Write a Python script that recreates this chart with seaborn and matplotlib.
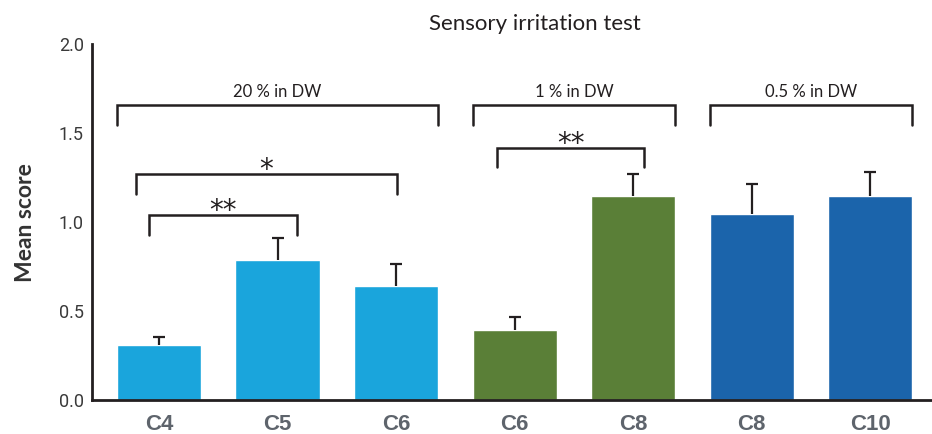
import matplotlib
matplotlib.use("Agg")
import matplotlib.pyplot as plt
import pandas as pd
import seaborn as sns

# data
bar_ids = ["C4", "C5", "C6a", "C6b", "C8a", "C8b", "C10"]
bar_labels = ["C4", "C5", "C6", "C6", "C8", "C8", "C10"]
groups = ["20 % in DW"] * 3 + ["1 % in DW"] * 2 + ["0.5 % in DW"] * 2
mean_score = [0.31, 0.785, 0.64, 0.393, 1.146, 1.045, 1.146]
sem = [0.045, 0.125, 0.125, 0.073, 0.125, 0.168, 0.135]

group_colors = {"20 % in DW": "#1aa5dc", "1 % in DW": "#5a7f37", "0.5 % in DW": "#1b64ab"}

df = pd.DataFrame({"bar": bar_ids, "score": mean_score, "sem": sem, "group": groups})
df["top"] = df["score"] + df["sem"]

sns.set_style("white")
plt.rcParams["font.family"] = ["Lato", "DejaVu Sans"]

fig = plt.figure(figsize=(9.32, 4.34), dpi=100)
ax = fig.add_axes([0.0987, 0.0783, 0.9013, 0.820])

sns.barplot(data=df, x="bar", y="score", hue="group", palette=group_colors,
            order=bar_ids, dodge=False, width=0.71, legend=False, ax=ax,
            saturation=1, errorbar=None)

# upward-only error bars: stem plus a single cap at the top
centers = sorted(p.get_x() + p.get_width() / 2 for p in ax.patches[:len(bar_ids)])
ax.vlines(centers, df["score"], df["top"], color="#231f20", lw=1.6, zorder=3)
ax.plot(centers, df["top"], ls="none", marker="_", ms=8, mew=1.6, color="#231f20", zorder=3)

ax.set_ylim(0, 2.0)
ax.set_xlim(-0.565, 6.52)
ax.set_yticks([0, 0.5, 1.0, 1.5, 2.0])
ax.set_yticklabels(["0.0", "0.5", "1.0", "1.5", "2.0"], fontsize=13, color="#3a3a3a",
                   family=["Roboto", "DejaVu Sans"])
ax.set_xticks(range(len(bar_ids)))
ax.set_xticklabels(bar_labels, fontsize=16, fontweight="bold", color="#5e646c",
                   family=["Liberation Sans Narrow", "Liberation Sans", "DejaVu Sans"])
ax.tick_params(axis="both", length=0, pad=6)
ax.tick_params(axis="x", pad=10)
ax.set_xlabel("")
ax.set_ylabel("Mean score", fontsize=16.5, color="#333333", labelpad=16, fontweight="bold")

for side in ["top", "right"]:
    ax.spines[side].set_visible(False)
for side in ["left", "bottom"]:
    ax.spines[side].set_color("#231f20")
    ax.spines[side].set_linewidth(2)

ax.set_title("Sensory irritation test", fontsize=16, color="#231f20", pad=10, x=0.527)


def bracket(x0, x1, y, drop):
    ax.plot([x0, x0, x1, x1], [y - drop, y, y, y - drop], color="#231f20", lw=1.8,
            solid_joinstyle="miter", clip_on=False)


def label(x0, x1, y, text):
    ax.annotate(text, ((x0 + x1) / 2, y), xytext=(0, 4), textcoords="offset points",
                ha="center", va="bottom", fontsize=12, color="#231f20")


def stars(x0, x1, y, text):
    ax.annotate(text, ((x0 + x1) / 2, y), xytext=(0, -3), textcoords="offset points",
                ha="center", va="baseline", fontsize=20, color="#231f20",
                family=["DejaVu Sans"])


# concentration brackets
for x0, x1, txt in [(-0.355, 2.355, "20 % in DW"), (2.645, 4.355, "1 % in DW"),
                    (4.645, 6.355, "0.5 % in DW")]:
    bracket(x0, x1, 1.657, 0.112)
    label(x0, x1, 1.657, txt)

# significance brackets
for x0, x1, y, drop, txt in [(-0.194, 2.008, 1.27, 0.113, "*"),
                             (-0.084, 1.165, 1.039, 0.112, "**"),
                             (2.852, 4.093, 1.416, 0.106, "**")]:
    bracket(x0, x1, y, drop)
    stars(x0, x1, y, txt)

fig.savefig("out.png", dpi=100)
